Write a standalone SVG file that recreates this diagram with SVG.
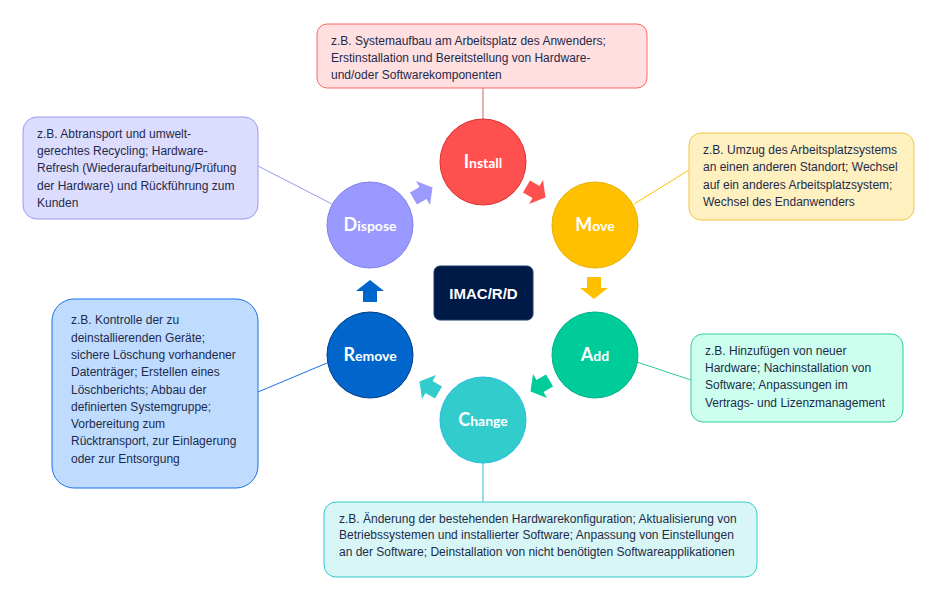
<svg xmlns="http://www.w3.org/2000/svg" width="944" height="608" viewBox="0 0 944 608">
<defs>
<style>
.t{font-family:"Liberation Sans",Arial,sans-serif;font-size:12px;fill:#1e2a4a}
.c{font-family:Lato,"Open Sans",sans-serif;font-weight:bold;fill:#fff;text-anchor:middle}
.c .b{font-size:18px}
.c .s{font-size:14px}
.ln{stroke-width:1;fill:none}
</style>
<path id="arr" d="M-11,-7 L0,-7 L0,-14 L11,0 L0,14 L0,7 L-11,7 Z"/>
</defs>
<rect width="944" height="608" fill="#fff"/>
<g id="connectors">
<line class="ln" x1="483" y1="88" x2="483" y2="119" stroke="#d86060"/>
<line class="ln" x1="634" y1="204" x2="689" y2="170" stroke="#ffc000"/>
<line class="ln" x1="637" y1="362" x2="691" y2="380" stroke="#33cc99"/>
<line class="ln" x1="483" y1="463" x2="483" y2="502" stroke="#33bbdd"/>
<line class="ln" x1="258" y1="392" x2="327" y2="363" stroke="#1a6fe8"/>
<line class="ln" x1="258" y1="166" x2="332" y2="204" stroke="#9999ee"/>
<use href="#arr" fill="#9b9bff" transform="translate(423,193) rotate(-30)"/>
<use href="#arr" fill="#ff5050" transform="translate(536,192) rotate(30)"/>
<use href="#arr" fill="#ffc000" transform="translate(594,288) rotate(90)"/>
<use href="#arr" fill="#00cc99" transform="translate(540,386) rotate(150)"/>
<use href="#arr" fill="#33cccc" transform="translate(429,387) rotate(210)"/>
<use href="#arr" fill="#0066cc" transform="translate(370,291) rotate(-90)"/>
</g>
<g id="imac">
<rect x="434" y="266" width="99" height="54" rx="6" fill="#001a48" stroke="#1a3a6a" stroke-width="1"/>
<text x="483.5" y="299" text-anchor="middle" font-family="'Liberation Sans',Arial,sans-serif" font-weight="bold" font-size="15" fill="#fff">IMAC/R/D</text>
</g>
<g id="install">
<circle cx="483" cy="162" r="43" fill="#ff5050" stroke="#d83030"/>
<text class="c" x="483" y="168"><tspan class="b">I</tspan><tspan class="s">nstall</tspan></text>
</g>
<g id="move">
<circle cx="595" cy="225" r="43" fill="#ffc000" stroke="#e8b000"/>
<text class="c" x="595" y="231"><tspan class="b">M</tspan><tspan class="s">ove</tspan></text>
</g>
<g id="add">
<circle cx="595" cy="355" r="43" fill="#00cc99" stroke="#00b088"/>
<text class="c" x="595" y="361"><tspan class="b">A</tspan><tspan class="s">dd</tspan></text>
</g>
<g id="change">
<circle cx="483" cy="420" r="43" fill="#33cccc" stroke="#22bbe0"/>
<text class="c" x="483" y="426"><tspan class="b">C</tspan><tspan class="s">hange</tspan></text>
</g>
<g id="remove">
<circle cx="370" cy="355" r="43" fill="#0066cc" stroke="#003c88"/>
<text class="c" x="370" y="361"><tspan class="b">R</tspan><tspan class="s">emove</tspan></text>
</g>
<g id="dispose">
<circle cx="370" cy="225" r="43" fill="#9999ff" stroke="#7f7fee"/>
<text class="c" x="370" y="231"><tspan class="b">D</tspan><tspan class="s">ispose</tspan></text>
</g>
<g id="install-note">
<rect x="317" y="24" width="330" height="64" rx="10" fill="#ffdfe0" stroke="#ff6666"/>
<text class="t"><tspan x="331" y="45">z.B. Systemaufbau am Arbeitsplatz des Anwenders;</tspan><tspan x="331" y="62">Erstinstallation und Bereitstellung von Hardware-</tspan><tspan x="331" y="79">und/oder Softwarekomponenten</tspan></text>
</g>
<g id="move-note">
<rect x="689" y="133" width="225" height="87" rx="12" fill="#fff0c0" stroke="#f5c342"/>
<text class="t"><tspan x="703" y="154">z.B. Umzug des Arbeitsplatzsystems</tspan><tspan x="703" y="171">an einen anderen Standort; Wechsel</tspan><tspan x="703" y="189">auf ein anderes Arbeitsplatzsystem;</tspan><tspan x="703" y="206">Wechsel des Endanwenders</tspan></text>
</g>
<g id="add-note">
<rect x="691" y="334" width="212" height="88" rx="12" fill="#ccffee" stroke="#33cc99"/>
<text class="t"><tspan x="705" y="355">z.B. Hinzufügen von neuer</tspan><tspan x="705" y="372">Hardware; Nachinstallation von</tspan><tspan x="705" y="389">Software; Anpassungen im</tspan><tspan x="705" y="407">Vertrags- und Lizenzmanagement</tspan></text>
</g>
<g id="change-note">
<rect x="324" y="502" width="433" height="75" rx="12" fill="#d8f6f6" stroke="#33cccc"/>
<text class="t"><tspan x="339" y="523">z.B. Änderung der bestehenden Hardwarekonfiguration; Aktualisierung von</tspan><tspan x="339" y="539">Betriebssystemen und installierter Software; Anpassung von Einstellungen</tspan><tspan x="339" y="556">an der Software; Deinstallation von nicht benötigten Softwareapplikationen</tspan></text>
</g>
<g id="remove-note">
<rect x="52" y="299" width="206" height="189" rx="22" fill="#bfdcff" stroke="#1a6fe8"/>
<text class="t"><tspan x="71" y="324">z.B. Kontrolle der zu</tspan><tspan x="71" y="341.5">deinstallierenden Geräte;</tspan><tspan x="71" y="359">sichere Löschung vorhandener</tspan><tspan x="71" y="376">Datenträger; Erstellen eines</tspan><tspan x="71" y="393.5">Löschberichts; Abbau der</tspan><tspan x="71" y="410.5">definierten Systemgruppe;</tspan><tspan x="71" y="428">Vorbereitung zum</tspan><tspan x="71" y="445">Rücktransport, zur Einlagerung</tspan><tspan x="71" y="462.5">oder zur Entsorgung</tspan></text>
</g>
<g id="dispose-note">
<rect x="23" y="117" width="235" height="102" rx="14" fill="#dcdcff" stroke="#9999ee"/>
<text class="t"><tspan x="37" y="137.5">z.B. Abtransport und umwelt-</tspan><tspan x="37" y="155">gerechtes Recycling; Hardware-</tspan><tspan x="37" y="172">Refresh (Wiederaufarbeitung/Prüfung</tspan><tspan x="37" y="189.5">der Hardware) und Rückführung zum</tspan><tspan x="37" y="207">Kunden</tspan></text>
</g>
</svg>
